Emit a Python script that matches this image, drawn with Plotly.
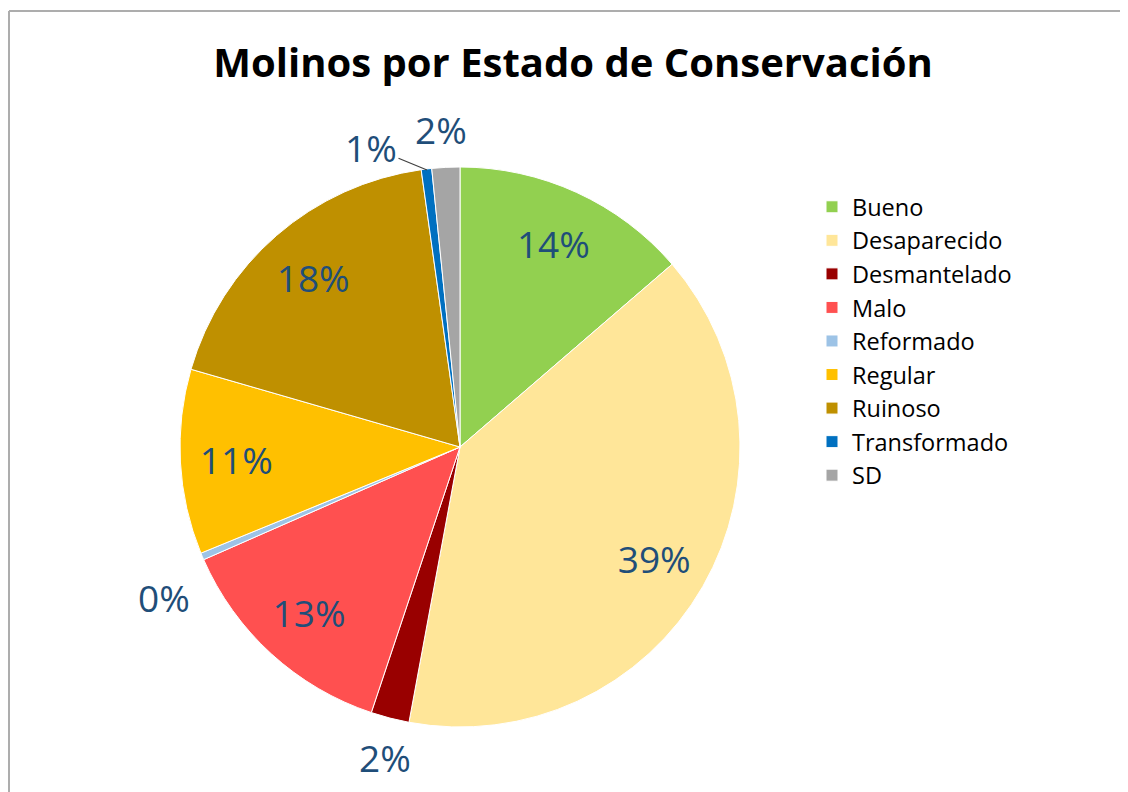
import plotly.graph_objects as go

estados = ["Bueno", "Desaparecido", "Desmantelado", "Malo", "Reformado",
           "Regular", "Ruinoso", "Transformado", "SD"]
molinos = [68, 195, 11, 66, 2, 53, 91, 3, 8]
colores = ["#92D050", "#FFE699", "#990000", "#FF5050", "#9DC3E6",
           "#FFC000", "#BF9000", "#0070C0", "#A5A5A5"]
# etiquetas dentro (anillo exterior) o fuera del sector
dentro = [True, True, False, True, False, True, True, False, False]
# posición (px) de las etiquetas exteriores
etiqueta_fuera = {"Desmantelado": (385, 757), "Reformado": (164, 597),
                  "Transformado": (371, 147), "SD": (441, 130)}

W, H = 1128, 792
OFF = 8  # margen del body de la página
fuente = "Open Sans"
azul = "#1F4E79"


def X(px):
    return (px - OFF) / W


def Y(py):
    return 1 - (py - OFF) / H


total = sum(molinos)
porcentajes = {e: f"{round(100 * v / total)}%" for e, v in zip(estados, molinos)}
dominio = dict(x=[X(180), X(740)], y=[Y(727), Y(167)])

fig = go.Figure()
fig.add_trace(go.Pie(
    labels=estados, values=molinos, sort=False, direction="clockwise", rotation=0,
    marker=dict(colors=colores, line=dict(color="white", width=1)),
    textinfo="none",
    hoverinfo="label+value+percent",
    domain=dominio,
))
# capa transparente en anillo para colocar los porcentajes interiores más hacia fuera
fig.add_trace(go.Pie(
    labels=estados, values=molinos, sort=False, direction="clockwise", rotation=0,
    hole=0.6, showlegend=False, hoverinfo="skip",
    marker=dict(colors=["rgba(0,0,0,0)"] * len(estados), line=dict(width=0)),
    texttemplate=["%{percent:.0%}" if d else "" for d in dentro],
    textposition="inside", insidetextorientation="horizontal",
    textfont=dict(family=fuente, size=37, color=azul),
    domain=dominio,
))

for e, (px, py) in etiqueta_fuera.items():
    if e == "Transformado":
        fig.add_annotation(x=X(427), y=Y(170), xref="paper", yref="paper",
                           text=porcentajes[e], showarrow=True, arrowhead=0, arrowwidth=1.2,
                           arrowcolor="#404040", ax=px - 427, ay=py - 170, standoff=0,
                           font=dict(family=fuente, size=37, color=azul))
    else:
        fig.add_annotation(x=X(px), y=Y(py), xref="paper", yref="paper", showarrow=False,
                           text=porcentajes[e], xanchor="center", yanchor="middle",
                           font=dict(family=fuente, size=37, color=azul))

fig.update_layout(
    width=W, height=H, margin=dict(l=0, r=0, t=0, b=0),
    plot_bgcolor="white", paper_bgcolor="white",
    title=dict(text="<b>Molinos por Estado de Conservación</b>", x=X(573), xanchor="center",
               y=Y(63), yanchor="middle", font=dict(family=fuente, size=40, color="black")),
    legend=dict(x=X(812), y=Y(185), xanchor="left", yanchor="top",
                font=dict(family=fuente, size=23.5, color="black"), tracegroupgap=0),
    font=dict(family=fuente),
)

# marco gris del área del gráfico
fig.add_shape(type="line", xref="paper", yref="paper", x0=X(9), x1=X(9), y0=-0.05, y1=Y(11),
              line=dict(color="#ADADAD", width=2))
fig.add_shape(type="line", xref="paper", yref="paper", x0=X(9), x1=1.05, y0=Y(11), y1=Y(11),
              line=dict(color="#ADADAD", width=2))

fig.write_html("out.html")
